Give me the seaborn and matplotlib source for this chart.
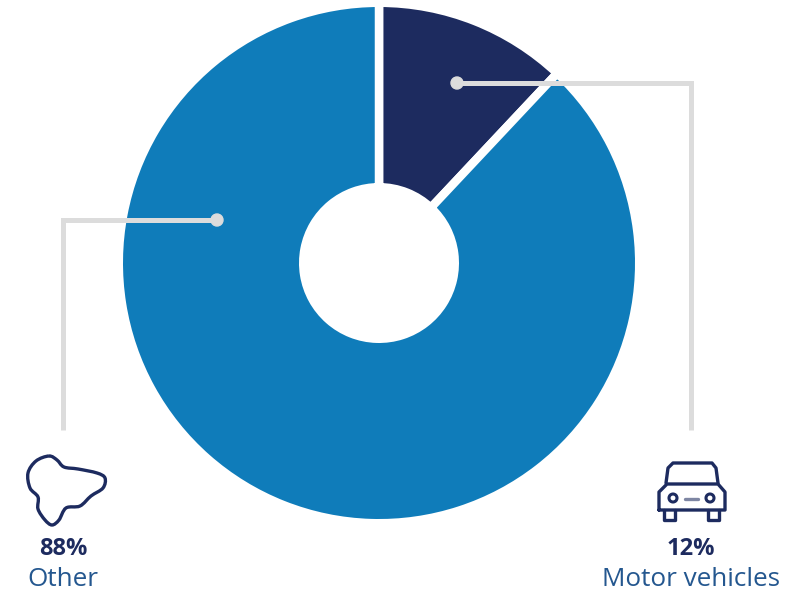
import matplotlib
matplotlib.use("Agg")
import matplotlib.pyplot as plt
import seaborn as sns
from matplotlib.patches import Circle, PathPatch
from matplotlib.path import Path

# Share of the total by source
categories = ["Motor vehicles", "Other"]
shares = [12, 88]
share_labels = ["12%", "88%"]

NAVY = "#1D2B5F"
BLUE = "#0F7CBA"
GREY = "#DCDCDC"
WIDTH, HEIGHT = 797, 595

sns.set_theme(style="white")
plt.rcParams["font.family"] = ["Open Sans", "DejaVu Sans"]

fig = plt.figure(figsize=(WIDTH / 100, HEIGHT / 100), dpi=100, facecolor="white")
ax = fig.add_axes([0, 0, 1, 1])


def flip(y):
    """Convert a top-down canvas height to the upward axis."""
    return HEIGHT - y


# Ring: the white wedge edge opens the gaps between the two slices
edge_px = 8.5
ax.pie(
    shares,
    colors=[NAVY, BLUE],
    startangle=90,
    counterclock=False,
    center=(379, flip(263)),
    radius=256 + edge_px / 2,
    wedgeprops=dict(
        width=256 - 80 + edge_px,
        edgecolor="white",
        linewidth=edge_px * 0.72,
        joinstyle="miter",
    ),
)
ax.set_xlim(0, WIDTH)
ax.set_ylim(0, HEIGHT)
ax.set_aspect("equal")
ax.axis("off")

# Leader lines running from each slice to its icon
leader_lw = 3.6
ax.plot([457, 691, 691], [flip(83), flip(83), flip(430)], color=GREY, lw=leader_lw,
        solid_joinstyle="miter", solid_capstyle="butt", zorder=5)
ax.plot([217, 63, 63], [flip(220), flip(220), flip(430)], color=GREY, lw=leader_lw,
        solid_joinstyle="miter", solid_capstyle="butt", zorder=5)
ax.add_patch(Circle((457, flip(83)), 6, color=GREY, zorder=6))
ax.add_patch(Circle((217, flip(220)), 6, color=GREY, zorder=6))


def closed_spline(points):
    """Closed Catmull-Rom outline expressed as cubic Bezier segments."""
    n = len(points)
    verts = [points[0]]
    codes = [Path.MOVETO]
    for i in range(n):
        p0, p1, p2, p3 = points[i - 1], points[i], points[(i + 1) % n], points[(i + 2) % n]
        c1 = (p1[0] + (p2[0] - p0[0]) / 6, p1[1] + (p2[1] - p0[1]) / 6)
        c2 = (p2[0] - (p3[0] - p1[0]) / 6, p2[1] - (p3[1] - p1[1]) / 6)
        verts += [c1, c2, p2]
        codes += [Path.CURVE4] * 3
    return Path(verts, codes)


# Cloud icon
cloud_outline = [
    (49, 456), (36, 461), (28, 473), (30, 488), (38, 497), (38, 509),
    (45, 520), (52, 525), (59, 520), (66, 508), (80, 506), (91, 496), (103, 488),
    (105, 478), (97, 473), (78, 469), (64, 467), (57, 460),
]
ax.add_patch(PathPatch(
    closed_spline([(x, flip(y)) for x, y in cloud_outline]),
    facecolor="none", edgecolor=NAVY, lw=2.4, zorder=5,
))

# Car icon
icon_style = dict(color=NAVY, lw=2.4, solid_capstyle="round", solid_joinstyle="round", zorder=5)
ax.plot([666, 668, 673, 712, 716, 718],
        [flip(483), flip(468), flip(463), flip(463), flip(468), flip(483)], **icon_style)
ax.plot([659, 659, 667, 718, 725, 725, 659],
        [flip(510), flip(492), flip(484), flip(484), flip(492), flip(510), flip(510)], **icon_style)
ax.plot([664, 664, 675, 675], [flip(510), flip(520), flip(520), flip(510)], **icon_style)
ax.plot([708, 708, 719, 719], [flip(510), flip(520), flip(520), flip(510)], **icon_style)
ax.add_patch(Circle((673, flip(498)), 4, fc="none", ec=NAVY, lw=2.2, zorder=5))
ax.add_patch(Circle((710, flip(498)), 4, fc="none", ec=NAVY, lw=2.2, zorder=5))
ax.plot([685, 698], [flip(499), flip(499)], color="#7E86A3", lw=2.4, zorder=5)

# Labels under the icons
ax.text(63, flip(549), share_labels[1], ha="center", va="center", color=NAVY,
        fontsize=17, fontweight="bold")
ax.text(63, flip(580), categories[1], ha="center", va="center", color="#24578F", fontsize=18.8)
ax.text(691, flip(549), share_labels[0], ha="center", va="center", color=NAVY,
        fontsize=17, fontweight="bold")
ax.text(691, flip(580), categories[0], ha="center", va="center", color="#24578F", fontsize=18.8)

fig.savefig("out.png", dpi=100, facecolor="white")
